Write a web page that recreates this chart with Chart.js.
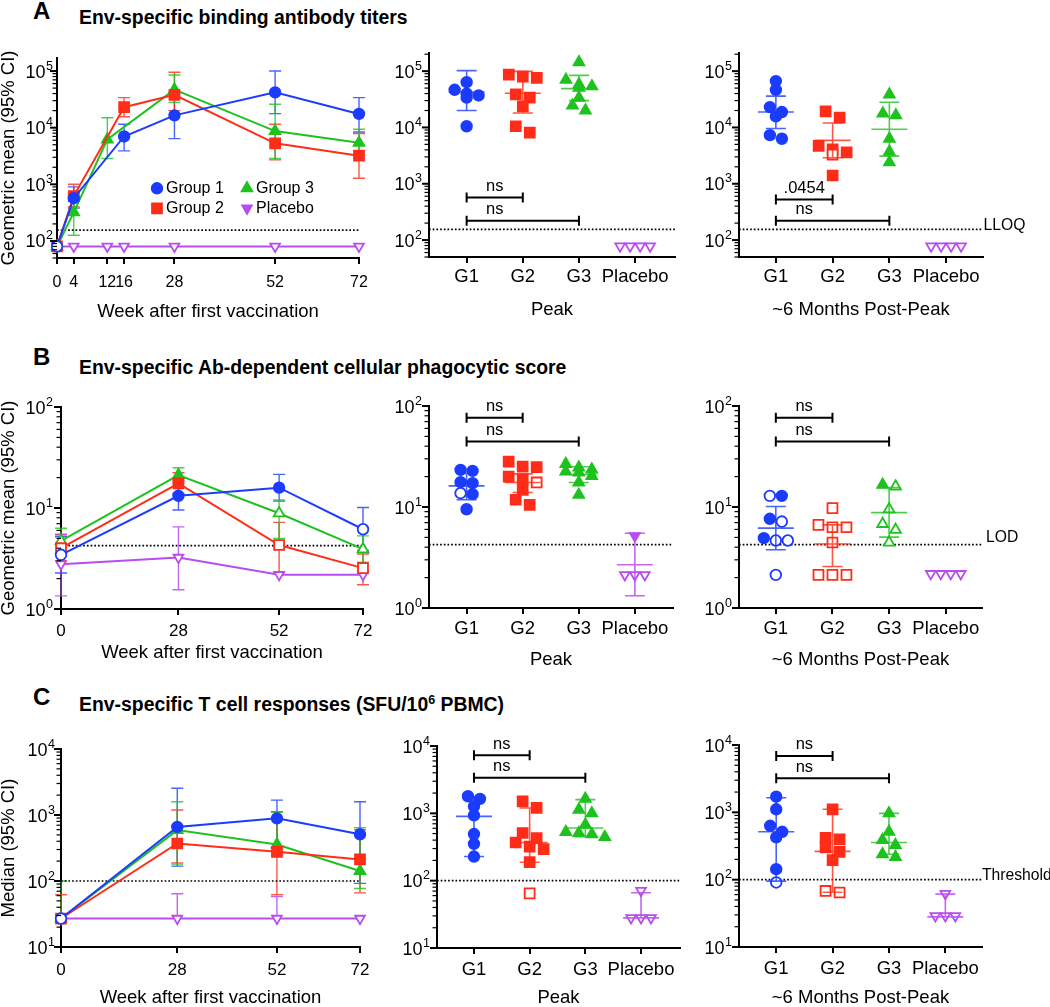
<!DOCTYPE html>
<html>
<head>
<meta charset="utf-8">
<script src="https://cdn.jsdelivr.net/npm/chart.js@4.4.1/dist/chart.umd.min.js"></script>
<style>
  html, body { margin: 0; padding: 0; background: #fff; }
  body { position: relative; width: 1050px; height: 1007px; overflow: hidden;
         font-family: "Liberation Sans", Arial, Helvetica, sans-serif; color: #000; }
  .letter { position: absolute; font-weight: bold; font-size: 24px; line-height: 1; }
  .title { position: absolute; font-weight: bold; font-size: 19.4px; line-height: 1; white-space: nowrap; }
  .title .sup { font-size: 12.5px; position: relative; top: -7px; }
  canvas { position: absolute; }
</style>
</head>
<body>
<div class="letter" style="left:33px;top:-1px">A</div>
<div class="title" style="left:79px;top:8px">Env-specific binding antibody titers</div>
<div class="letter" style="left:33px;top:345px">B</div>
<div class="title" style="left:79px;top:358px">Env-specific Ab-dependent cellular phagocytic score</div>
<div class="letter" style="left:33px;top:685px">C</div>
<div class="title" style="left:79px;top:695px">Env-specific T cell responses (SFU/10<span class="sup">6</span> PBMC)</div>

<script>
// ---- labels ----
const weekTicksA = [0, 4, 12, 16, 28, 52, 72];
const weekTicksBC = [0, 28, 52, 72];
const groupLabels = ['G1', 'G2', 'G3', 'Placebo'];
const legendLabels = ['Group 1', 'Group 2', 'Group 3', 'Placebo'];

// ---- A: binding antibody titers over time (geometric mean, 95% CI) ----
const aWeeksG1 = [0, 4, 16, 28, 52, 72];
const aG1 = [80, 570, 7000, 16500, 42000, 17500];
const aG1Lo = [null, 380, 3900, 6400, 17700, 8400];
const aG1Hi = [null, 900, 11500, 42000, 100000, 34000];
const aWeeksG2 = [0, 4, 16, 28, 52, 72];
const aG2 = [80, 620, 23000, 38000, 5300, 3200];
const aG2Lo = [null, 400, 15600, 20000, 2700, 1280];
const aG2Hi = [null, 1000, 34000, 95000, 11500, 7900];
const aWeeksG3 = [0, 4, 12, 28, 52, 72];
const aG3 = [80, 320, 6200, 47000, 8700, 5400];
const aG3Lo = [null, 126, 2850, 28000, 2850, 3000];
const aG3Hi = [null, 700, 15000, 85000, 26000, 9400];
const aWeeksPl = [0, 4, 12, 16, 28, 52, 72];
const aPl = [80, 80, 80, 80, 80, 80, 80];
const aLLOQ = 155;

// A: peak and ~6 months post-peak, individual animals
const aPeakG1 = [63800, 46700, 39800, 37000, 33800, 10500];
const aPeakG2 = [87000, 80000, 76000, 38600, 33800, 23700, 10500, 8100];
const aPeakG3 = [144000, 70000, 58000, 53700, 50800, 33800, 24600, 20000];
const aPeakPl = [78, 78, 78, 78];
const aPeakMean = [42500, 40600, 49000, null];
const aPeakLo = [20000, 18000, 30000, null];
const aPeakHi = [102000, 99000, 84000, null];

const aPostG1 = [66500, 46700, 23000, 18800, 15700, 7300, 6300];
const aPostG2 = [19300, 15000, 4700, 4100, 3600, 3300, 1400];
const aPostG2Open = [false, false, false, false, false, true, false];
const aPostG3 = [38600, 17600, 16400, 6300, 3700, 2400];
const aPostPl = [78, 78, 78, 78];
const aPostMean = [18800, 5900, 9300, null];
const aPostLo = [9600, 2900, 3100, null];
const aPostHi = [36000, 12000, 28000, null];

// ---- B: ADCP score ----
const bWeeks = [0, 28, 52, 72];
const bG1 = [3.44, 13.2, 15.9, 6.16];
const bG1Lo = [2.27, 9.55, 11.7, 3.8];
const bG1Hi = [5.2, 18.5, 21.5, 10.1];
const bG1Open = [true, false, false, true];
const bG2 = [4.0, 17.5, 4.3, 2.54];
const bG2Lo = [3.0, 14, 2.3, 1.74];
const bG2Hi = [5.5, 22.3, 7.2, 3.5];
const bG2Open = [true, false, true, true];
const bG3 = [4.72, 21.2, 8.87, 3.91];
const bG3Lo = [3.5, 17.5, 5.0, 2.9];
const bG3Hi = [6.3, 25, 12, 5.3];
const bG3Open = [true, false, true, true];
const bPl = [2.78, 3.23, 2.18, 2.18];
const bPlLo = [1.35, 1.55, null, null];
const bPlHi = [5.4, 6.5, null, null];
const bLOD = 4.25;

const bPeakG1 = [23.3, 22.8, 17.6, 17.2, 13.7, 13.4, 9.5];
const bPeakG1Open = [false, false, false, false, true, false, false];
const bPeakG2 = [28.1, 25.1, 24.8, 20, 18.8, 17.5, 14.8, 11.8, 10.5];
const bPeakG2Open = [false, false, false, false, false, true, false, false, false];
const bPeakG3 = [26.7, 24.6, 23.5, 22.4, 22.0, 20.3, 17.5, 13.2];
const bPeakPl = [5.18, 2.13, 2.13, 2.13];
const bPeakPlOpen = [false, true, true, true];
const bPeakMean = [16.2, 17.5, 21, 2.68];
const bPeakLo = [11.8, 13.9, 17.5, 1.32];
const bPeakHi = [21.6, 21.3, 25, 5.5];

const bPostG1 = [12.9, 12.9, 7.64, 7.18, 4.92, 4.66, 4.66, 2.13];
const bPostG1Open = [true, false, false, true, false, true, true, true];
const bPostG2 = [9.75, 6.66, 6.3, 6.3, 4.45, 2.13, 2.13, 2.13];
const bPostG2Open = [true, true, true, true, true, true, true, true];
const bPostG3 = [16.6, 16.0, 9.5, 6.8, 5.94, 4.45];
const bPostG3Open = [false, true, true, true, true, true];
const bPostPl = [2.18, 2.18, 2.18, 2.18];
const bPostMean = [6.18, 4.3, 8.8, null];
const bPostLo = [3.77, 2.58, 5.03, null];
const bPostHi = [10.1, 6.66, 15.6, null];

// ---- C: T cell responses (median, 95% CI) ----
const cWeeks = [0, 28, 52, 72];
const cG1 = [27, 660, 890, 510];
const cG1Lo = [null, 168, 246, 92];
const cG1Hi = [null, 2540, 1680, 1590];
const cG1Open = [true, false, false, false];
const cG2 = [27, 370, 277, 212];
const cG2Lo = [null, 188, 62, 66];
const cG2Hi = [62, 1190, 1120, 600];
const cG3 = [27, 590, 358, 142];
const cG3Lo = [null, 180, 240, 77];
const cG3Hi = [100, 1590, 1100, 640];
const cPl = [27, 27, 27, 27];
const cPlLo = [null, null, null, null];
const cPlHi = [null, 64, 58, null];
const cThreshold = 100;

const cPeakG1 = [1794, 1640, 1271, 933, 492, 353, 228];
const cPeakG2 = [1510, 1202, 510, 429, 369, 321, 294, 188, 64.7];
const cPeakG2Open = [false, false, false, false, false, false, false, false, true];
const cPeakG3 = [1640, 1135, 1000, 678, 530, 510, 490, 444];
const cPeakPl = [71, 28, 28, 28];
const cPeakMed = [900, 369, 605, 28];
const cPeakLo = [228, 188, 450, 28];
const cPeakHi = [1750, 1200, 1600, 66];

const cPostG1 = [1706, 1109, 631, 514, 425, 143, 90.8];
const cPostG1Open = [false, false, false, false, false, false, true];
const cPostG2 = [1109, 419, 396, 301, 259, 195, 68, 64.5];
const cPostG2Open = [false, false, false, false, false, false, true, true];
const cPostG3 = [966, 514, 387, 326, 239, 218];
const cPostPl = [62, 28.9, 28.9, 28.9];
const cPostMed = [514, 263, 357, 28];
const cPostLo = [95, 65, 239, 28];
const cPostHi = [1650, 1109, 966, 61];

// significance brackets (G1 vs G2, G1 vs G3)
const aPeakBrackets = [{ to: 2, y: 571, text: 'ns' }, { to: 3, y: 220, text: 'ns' }];
const aPostBrackets = [{ to: 2, y: 527, text: '.0454' }, { to: 3, y: 220, text: 'ns' }];
const bBrackets = [{ to: 2, y: 76.6, text: 'ns' }, { to: 3, y: 44.4, text: 'ns' }];
const cPeakBrackets = [{ to: 2, y: 7260, text: 'ns' }, { to: 3, y: 3375, text: 'ns' }];
const cPostBrackets = [{ to: 2, y: 6890, text: 'ns' }, { to: 3, y: 3206, text: 'ns' }];

// ---- styles ----
const FONT = '"Liberation Sans", Arial, Helvetica, sans-serif';
const COLORS = ['#1b3cff', '#ff2c18', '#1ec21e', '#b94cf0'];
const BAR_COLORS = ['rgba(27,60,255,0.8)', 'rgba(255,44,24,0.8)', 'rgba(30,194,30,0.8)', 'rgba(185,76,240,0.85)'];
const STYLES = ['circle', 'rect', 'triangle', 'triangle'];
const RADII = [5.3, 7, 6.2, 5.6];
const ROT = [0, 0, 0, 180];
const GAPS = [12, 14, 13, 10];

Chart.defaults.font.family = FONT;
Chart.defaults.color = '#000';

// GraphPad-like rows: points whose heights fall within about half a marker
// of the row's first point share a row (max 4), centred on the group
function swarmX(values, center, pxPerDec, pxPerUnit, gap) {
  const idx = values.map((v, i) => i).sort((a, b) => values[b] - values[a]);
  const xs = new Array(values.length);
  let row = [];
  const flush = () => {
    row.forEach((i, k) => { xs[i] = center + (k - (row.length - 1) / 2) * gap / pxPerUnit; });
    row = [];
  };
  idx.forEach((i) => {
    if (row.length) {
      const first = row[0];
      const dy = (Math.log10(values[first]) - Math.log10(values[i])) * pxPerDec;
      if (dy > gap * 0.55 || row.length >= 4) flush();
    }
    row.push(i);
  });
  flush();
  return xs;
}

// ---- plugins ----
function logAxisPlugin(gap) {
  return {
    id: 'logAxis',
    afterDraw(chart) {
      const s = chart.scales.y;
      const ctx = chart.ctx;
      const x0 = chart.chartArea.left;
      const lo = Math.floor(Math.log10(s.min) + 1e-9);
      const hi = Math.ceil(Math.log10(s.max) - 1e-9);
      ctx.save();
      ctx.strokeStyle = '#000';
      for (let e = lo; e <= hi; e++) {
        for (let k = 1; k <= 9; k++) {
          const v = k * Math.pow(10, e);
          if (v < s.min * 0.999 || v > s.max * 1.001) continue;
          const y = s.getPixelForValue(v);
          const len = k === 1 ? 6 : 3.5;
          ctx.lineWidth = k === 1 ? 2 : 1.2;
          ctx.beginPath();
          ctx.moveTo(x0 - len - 1, y);
          ctx.lineTo(x0, y);
          ctx.stroke();
        }
      }
      ctx.fillStyle = '#000';
      ctx.textBaseline = 'alphabetic';
      for (let e = lo; e <= hi; e++) {
        const v = Math.pow(10, e);
        if (v < s.min * 0.999 || v > s.max * 1.001) continue;
        const y = s.getPixelForValue(v);
        const right = x0 - gap;
        ctx.font = `12.5px ${FONT}`;
        const ew = ctx.measureText(String(e)).width;
        ctx.textAlign = 'left';
        ctx.fillText(String(e), right - ew, y - 1.5);
        ctx.font = `18px ${FONT}`;
        ctx.textAlign = 'right';
        ctx.fillText('10', right - ew - 0.5, y + 6.5);
      }
      ctx.restore();
    },
  };
}

const errorBarPlugin = {
  id: 'errorBars',
  beforeDatasetsDraw(chart) {
    const y = chart.scales.y;
    const ctx = chart.ctx;
    chart.data.datasets.forEach((ds, di) => {
      if (!ds.errLo) return;
      const meta = chart.getDatasetMeta(di);
      ctx.save();
      ctx.strokeStyle = BAR_COLORS[ds.group];
      ctx.lineWidth = 1.4;
      meta.data.forEach((pt, i) => {
        [ds.errLo[i], ds.errHi[i]].forEach((v) => {
          if (v == null) return;
          const py = y.getPixelForValue(v);
          ctx.beginPath();
          ctx.moveTo(pt.x, pt.y);
          ctx.lineTo(pt.x, py);
          ctx.moveTo(pt.x - 6, py);
          ctx.lineTo(pt.x + 6, py);
          ctx.stroke();
        });
      });
      ctx.restore();
    });
  },
};

function summaryPlugin(center, lo, hi) {
  return {
    id: 'summary',
    afterDatasetsDraw(chart) {
      const { ctx, scales: { x, y } } = chart;
      ctx.save();
      ctx.lineWidth = 1.6;
      center.forEach((c, g) => {
        if (c == null) return;
        const px = x.getPixelForValue(g + 1);
        const pc = y.getPixelForValue(c);
        const pl = y.getPixelForValue(lo[g]);
        const ph = y.getPixelForValue(hi[g]);
        ctx.strokeStyle = BAR_COLORS[g];
        ctx.beginPath();
        ctx.moveTo(px, pl); ctx.lineTo(px, ph);
        ctx.moveTo(px - 10, pl); ctx.lineTo(px + 10, pl);
        ctx.moveTo(px - 10, ph); ctx.lineTo(px + 10, ph);
        ctx.moveTo(px - 18, pc); ctx.lineTo(px + 18, pc);
        ctx.stroke();
      });
      ctx.restore();
    },
  };
}

function bracketPlugin(list) {
  return {
    id: 'brackets',
    afterDraw(chart) {
      const { ctx, scales: { x, y } } = chart;
      ctx.save();
      ctx.strokeStyle = '#000';
      ctx.fillStyle = '#000';
      ctx.lineWidth = 2;
      ctx.font = `16.5px ${FONT}`;
      ctx.textAlign = 'center';
      ctx.textBaseline = 'alphabetic';
      list.forEach((b) => {
        const x1 = x.getPixelForValue(1);
        const x2 = x.getPixelForValue(b.to);
        const py = y.getPixelForValue(b.y);
        ctx.beginPath();
        ctx.moveTo(x1, py); ctx.lineTo(x2, py);
        ctx.moveTo(x1, py - 5); ctx.lineTo(x1, py + 5);
        ctx.moveTo(x2, py - 5); ctx.lineTo(x2, py + 5);
        ctx.stroke();
        ctx.fillText(b.text, x.getPixelForValue(1.5), py - 6.5);
      });
      ctx.restore();
    },
  };
}

function thresholdLabelPlugin(text, value, dx, dy) {
  return {
    id: 'thresholdLabel',
    afterDraw(chart) {
      const { ctx, chartArea, scales: { y } } = chart;
      ctx.save();
      ctx.fillStyle = '#000';
      ctx.font = `15.7px ${FONT}`;
      ctx.textAlign = 'left';
      ctx.textBaseline = 'middle';
      ctx.fillText(text, chartArea.right + dx, y.getPixelForValue(value) + dy);
      ctx.restore();
    },
  };
}

const legendPlugin = {
  id: 'groupLegend',
  afterDraw(chart) {
    const { ctx, chartArea: a } = chart;
    const spots = [[100, 130.3], [100, 150.3], [190, 130.3], [190, 150.3]];
    ctx.save();
    ctx.font = `16px ${FONT}`;
    ctx.textAlign = 'left';
    ctx.textBaseline = 'middle';
    legendLabels.forEach((lab, g) => {
      const mx = a.left + spots[g][0];
      const my = a.top + spots[g][1];
      ctx.fillStyle = COLORS[g];
      ctx.strokeStyle = COLORS[g];
      Chart.helpers.drawPoint(ctx, { pointStyle: STYLES[g], radius: RADII[g], rotation: ROT[g], borderWidth: 1 }, mx, my);
      ctx.fillStyle = '#000';
      ctx.fillText(lab, mx + 9, my + 0.5);
    });
    ctx.restore();
  },
};

// ---- datasets ----
function timeSeries(g, weeks, vals, lo, hi, open) {
  return {
    group: g,
    data: weeks.map((w, i) => ({ x: w, y: vals[i] })),
    errLo: lo,
    errHi: hi,
    showLine: true,
    borderColor: COLORS[g],
    borderWidth: 2,
    pointStyle: STYLES[g],
    pointRadius: RADII[g],
    pointRotation: ROT[g],
    pointBorderColor: COLORS[g],
    pointBorderWidth: 1.8,
    pointBackgroundColor: vals.map((v, i) => (open && open[i] ? '#fff' : COLORS[g])),
    clip: false,
  };
}

function thresholdLine(value, xMin, xMax) {
  return {
    data: [{ x: xMin, y: value }, { x: xMax, y: value }],
    showLine: true,
    borderColor: '#000',
    borderWidth: 1.7,
    borderDash: [1.7, 2],
    pointRadius: 0,
    clip: false,
  };
}

function buildPanel(p) {
  const canvas = document.createElement('canvas');
  canvas.width = p.w;
  canvas.height = p.h;
  canvas.style.left = p.x + 'px';
  canvas.style.top = p.y + 'px';
  document.body.appendChild(canvas);

  const yAxisW = p.plot.l - p.x;
  const xAxisH = p.xTitleY + 9.25 - p.plot.b;
  const padding = {
    left: 0,
    top: p.plot.t - p.y,
    right: p.x + p.w - p.plot.r,
    bottom: p.y + p.h - p.plot.b - xAxisH,
  };
  const noPad = (s) => { s.paddingLeft = s.paddingRight = s.paddingTop = s.paddingBottom = 0; };

  return new Chart(canvas, {
    type: 'scatter',
    data: { datasets: p.datasets },
    options: {
      responsive: false,
      animation: false,
      events: [],
      layout: { padding, autoPadding: false },
      plugins: { legend: { display: false }, tooltip: { enabled: false } },
      scales: {
        x: {
          type: 'linear',
          min: p.xMin,
          max: p.xMax,
          afterBuildTicks: (s) => { s.ticks = p.xTicks.map((v) => ({ value: v })); },
          afterFit: (s) => { s.height = xAxisH; noPad(s); },
          ticks: {
            autoSkip: false, maxRotation: 0, padding: p.xTickPad, color: '#000',
            font: { size: p.xTickSize, lineHeight: 1 }, callback: p.xLabel,
          },
          grid: { drawOnChartArea: false, drawTicks: true, tickLength: 6, color: '#000', lineWidth: 2 },
          border: { display: true, color: '#000', width: 2 },
          title: { display: true, text: p.xTitle, color: '#000', font: { size: 18.5, lineHeight: 1 }, padding: 0 },
        },
        y: {
          type: 'logarithmic',
          min: p.yMin,
          max: p.yMax,
          afterFit: (s) => { s.width = yAxisW; noPad(s); },
          ticks: { display: false },
          grid: { display: false },
          border: { display: true, color: '#000', width: 2 },
          title: { display: !!p.yTitle, text: p.yTitle || '', color: '#000', font: { size: 18.5, lineHeight: 1 }, padding: 0 },
        },
      },
    },
    plugins: [errorBarPlugin, logAxisPlugin(p.labelGap)].concat(p.extra || []),
  });
}

function timePanel(p, series, threshold, ticks, extra) {
  return buildPanel(Object.assign({ xTickSize: 17 }, p, {
    datasets: series.concat([thresholdLine(threshold, p.xMin, p.xMax)]),
    xTicks: ticks,
    xLabel: (v) => String(v),
    xTitle: 'Week after first vaccination',
    extra: extra || [],
  }));
}

function dotPanel(p, groups, opens, stats, brackets, threshold, label) {
  const pxPerDec = (p.plot.b - p.plot.t) / Math.log10(p.yMax / p.yMin);
  const pxPerUnit = (p.plot.r - p.plot.l) / (p.xMax - p.xMin);
  const datasets = groups.map((vals, g) => {
    const xs = swarmX(vals, g + 1, pxPerDec, pxPerUnit, GAPS[g]);
    const open = opens[g] || vals.map(() => g === 3);
    return {
      data: vals.map((v, i) => ({ x: xs[i], y: v })),
      pointStyle: STYLES[g],
      pointRadius: RADII[g],
      pointRotation: ROT[g],
      pointBorderColor: COLORS[g],
      pointBorderWidth: 1.8,
      pointBackgroundColor: open.map((o) => (o ? '#fff' : COLORS[g])),
      clip: false,
    };
  });
  datasets.push(thresholdLine(threshold, p.xMin, p.xMax));
  const extra = [summaryPlugin(stats[0], stats[1], stats[2]), bracketPlugin(brackets)];
  if (label) extra.push(thresholdLabelPlugin(label.text, threshold, label.dx, label.dy));
  return buildPanel(Object.assign({}, p, {
    datasets,
    xTicks: [1, 2, 3, 4],
    xLabel: (v) => groupLabels[v - 1],
    xTickSize: 18.5,
    extra,
  }));
}

// ---- row A ----
timePanel(
  { x: 0, y: 40, w: 372, h: 290, plot: { l: 57, t: 58, r: 359, b: 258 }, xMin: 0, xMax: 72, xTickSize: 16,
    yMin: 50, yMax: 170000, xTitleY: 312, xTickPad: 11, labelGap: 4, yTitle: 'Geometric mean (95% CI)' },
  [
    timeSeries(0, aWeeksG1, aG1, aG1Lo, aG1Hi, [true]),
    timeSeries(1, aWeeksG2, aG2, aG2Lo, aG2Hi, [true]),
    timeSeries(2, aWeeksG3, aG3, aG3Lo, aG3Hi, [true]),
    timeSeries(3, aWeeksPl, aPl, null, null, aPl.map(() => true)),
  ],
  aLLOQ, weekTicksA, [legendPlugin]
);
dotPanel(
  { x: 372, y: 40, w: 316, h: 290, plot: { l: 429, t: 53, r: 675, b: 257 }, xMin: 0.33, xMax: 4.71,
    yMin: 50, yMax: 210000, xTitleY: 310, xTickPad: 4.5, labelGap: 7, xTitle: 'Peak' },
  [aPeakG1, aPeakG2, aPeakG3, aPeakPl], [], [aPeakMean, aPeakLo, aPeakHi], aPeakBrackets, aLLOQ, null
);
dotPanel(
  { x: 688, y: 40, w: 362, h: 290, plot: { l: 739, t: 53, r: 983, b: 257 }, xMin: 0.35, xMax: 4.65,
    yMin: 50, yMax: 210000, xTitleY: 310, xTickPad: 4.5, labelGap: 7, xTitle: '~6 Months Post-Peak' },
  [aPostG1, aPostG2, aPostG3, aPostPl], [null, aPostG2Open], [aPostMean, aPostLo, aPostHi], aPostBrackets, aLLOQ,
  { text: 'LLOQ', dx: 0.5, dy: -4 }
);

// ---- row B ----
timePanel(
  { x: 0, y: 380, w: 372, h: 290, plot: { l: 61, t: 407, r: 363, b: 609 }, xMin: 0, xMax: 72,
    yMin: 1, yMax: 100, xTitleY: 653, xTickPad: 8.2, labelGap: 8, yTitle: 'Geometric mean (95% CI)' },
  [
    timeSeries(0, bWeeks, bG1, bG1Lo, bG1Hi, bG1Open),
    timeSeries(1, bWeeks, bG2, bG2Lo, bG2Hi, bG2Open),
    timeSeries(2, bWeeks, bG3, bG3Lo, bG3Hi, bG3Open),
    timeSeries(3, bWeeks, bPl, bPlLo, bPlHi, bPl.map(() => true)),
  ],
  bLOD, weekTicksBC
);
dotPanel(
  { x: 372, y: 380, w: 316, h: 290, plot: { l: 429, t: 406, r: 673, b: 608 }, xMin: 0.33, xMax: 4.68,
    yMin: 1, yMax: 100, xTitleY: 660, xTickPad: 6, labelGap: 7, xTitle: 'Peak' },
  [bPeakG1, bPeakG2, bPeakG3, bPeakPl], [bPeakG1Open, bPeakG2Open, null, bPeakPlOpen],
  [bPeakMean, bPeakLo, bPeakHi], bBrackets, bLOD, null
);
dotPanel(
  { x: 688, y: 380, w: 362, h: 290, plot: { l: 739, t: 406, r: 982, b: 608 }, xMin: 0.35, xMax: 4.64,
    yMin: 1, yMax: 100, xTitleY: 660, xTickPad: 6, labelGap: 7, xTitle: '~6 Months Post-Peak' },
  [bPostG1, bPostG2, bPostG3, bPostPl], [bPostG1Open, bPostG2Open, bPostG3Open, null],
  [bPostMean, bPostLo, bPostHi], bBrackets, bLOD, { text: 'LOD', dx: 4, dy: -6.5 }
);

// ---- row C ----
timePanel(
  { x: 0, y: 720, w: 372, h: 290, plot: { l: 61, t: 749, r: 360, b: 947 }, xMin: 0, xMax: 72,
    yMin: 10, yMax: 10000, xTitleY: 998, xTickPad: 8.5, labelGap: 6, yTitle: 'Median (95% CI)' },
  [
    timeSeries(0, cWeeks, cG1, cG1Lo, cG1Hi, cG1Open),
    timeSeries(1, cWeeks, cG2, cG2Lo, cG2Hi, null),
    timeSeries(2, cWeeks, cG3, cG3Lo, cG3Hi, null),
    timeSeries(3, cWeeks, cPl, cPlLo, cPlHi, cPl.map(() => true)),
  ],
  cThreshold, weekTicksBC
);
dotPanel(
  { x: 372, y: 720, w: 316, h: 290, plot: { l: 437, t: 746, r: 680, b: 948 }, xMin: 0.336, xMax: 4.7,
    yMin: 10, yMax: 10000, xTitleY: 998, xTickPad: 6.75, labelGap: 7, xTitle: 'Peak' },
  [cPeakG1, cPeakG2, cPeakG3, cPeakPl], [null, cPeakG2Open, null, null],
  [cPeakMed, cPeakLo, cPeakHi], cPeakBrackets, cThreshold, null
);
dotPanel(
  { x: 688, y: 720, w: 362, h: 290, plot: { l: 739, t: 745, r: 982, b: 947 }, xMin: 0.34, xMax: 4.65,
    yMin: 10, yMax: 10000, xTitleY: 998, xTickPad: 6.75, labelGap: 7, xTitle: '~6 Months Post-Peak' },
  [cPostG1, cPostG2, cPostG3, cPostPl], [cPostG1Open, cPostG2Open, null, null],
  [cPostMed, cPostLo, cPostHi], cPostBrackets, cThreshold, { text: 'Threshold', dx: 0, dy: -4.3 }
);
</script>
</body>
</html>
